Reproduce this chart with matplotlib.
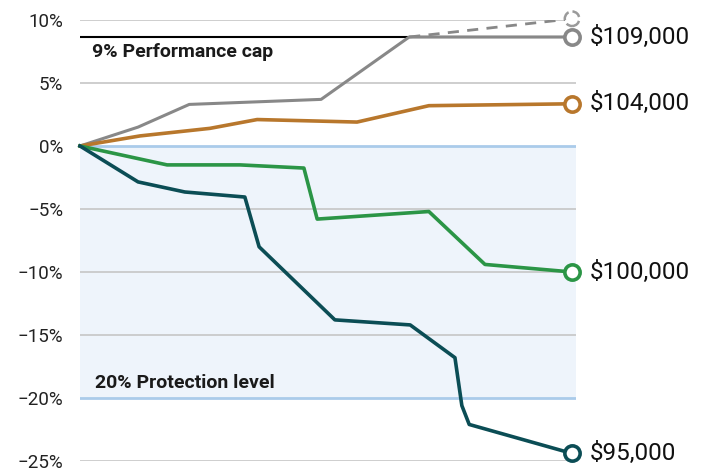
import matplotlib.pyplot as plt
import numpy as np

plt.rcParams['font.family'] = ['Roboto', 'DejaVu Sans']

# Data (x in % of period, y in % return)
x_gray = [0, 11.8, 22.2, 49, 66.9, 100]
y_gray = [0, 1.5, 3.3, 3.7, 8.65, 8.65]
x_gray_uncapped = [66.9, 100]
y_gray_uncapped = [8.65, 10.1]

x_orange = [0, 12.2, 26.4, 36, 56.3, 70.9, 100]
y_orange = [0, 0.8, 1.4, 2.1, 1.9, 3.2, 3.35]

x_green = [0, 17.7, 32.5, 45.5, 48.2, 70.9, 82.3, 100]
y_green = [0, -1.5, -1.5, -1.75, -5.8, -5.2, -9.4, -10]

x_teal = [0, 11.8, 21.3, 33.5, 36.4, 51.8, 67.1, 76.2, 77.6, 79.1, 100]
y_teal = [0, -2.85, -3.65, -4.05, -8.0, -13.8, -14.2, -16.8, -20.6, -22.1, -24.4]

end_labels = ['$109,000', '$104,000', '$100,000', '$95,000']
cap_level = 8.65
protection_level = -20
yticks = [10, 5, 0, -5, -10, -15, -20, -25]

c_gray = '#888888'
c_orange = '#b8772c'
c_green = '#2b9546'
c_teal = '#0b4d55'
c_blue = '#aacbea'
c_fill = '#eef4fb'

fig = plt.figure(figsize=(7.02, 4.68), dpi=100)
ax = fig.add_axes([80 / 702, 7 / 468, 496 / 702, 441 / 468])
ax.set_xlim(0, 100.8)
ax.set_ylim(-25, 10)

# background band and reference lines
ax.axhspan(protection_level, 0, color=c_fill, zorder=0, lw=0)
for t in yticks:
    if t in (0, protection_level):
        ax.axhline(t, color=c_blue, lw=2, zorder=1)
    else:
        ax.axhline(t, color='#c6c6c6', lw=1.2, zorder=1)
ax.axhline(cap_level, color='black', lw=1.5, zorder=2)

ax.text(2.4, 7.46, '9% Performance cap', fontsize=14, fontweight='bold',
        va='center', ha='left', color='#1a1a1a')
ax.text(3.0, -18.8, '20% Protection level', fontsize=14, fontweight='bold',
        va='center', ha='left', color='#1a1a1a')

# series
ax.plot(x_gray_uncapped, y_gray_uncapped, color=c_gray, lw=2, ls=(0, (4, 3)), zorder=3)
ax.scatter([x_gray_uncapped[-1]], [y_gray_uncapped[-1]], s=110, facecolor='white',
           edgecolor='#9a9a9a', linewidths=1.8, linestyles='--', zorder=4, clip_on=False)
series = [(x_gray, y_gray, c_gray, 2.2), (x_orange, y_orange, c_orange, 2.6),
          (x_green, y_green, c_green, 2.6), (x_teal, y_teal, c_teal, 2.6)]
for (xs, ys, col, lw), lab in zip(series, end_labels):
    ax.plot(xs, ys, color=col, lw=lw, zorder=5, solid_joinstyle='round', clip_on=False)
    ax.plot(xs[-1], ys[-1], 'o', ms=11, mfc='white', mec=col, mew=2.6, zorder=6, clip_on=False)
    ax.annotate(lab, (xs[-1], ys[-1]), xytext=(18, 0), textcoords='offset pixels',
                va='center', ha='left', fontsize=17.5, color='#111111')

ax.set_yticks(yticks)
ax.set_yticklabels([f'{t}%'.replace('-', '\u2212') for t in yticks])
ax.tick_params(axis='y', length=0, pad=12, labelsize=13.5, labelcolor='#222222')
ax.set_xticks([])
for s in ax.spines.values():
    s.set_visible(False)

fig.savefig('out.png', dpi=100)
